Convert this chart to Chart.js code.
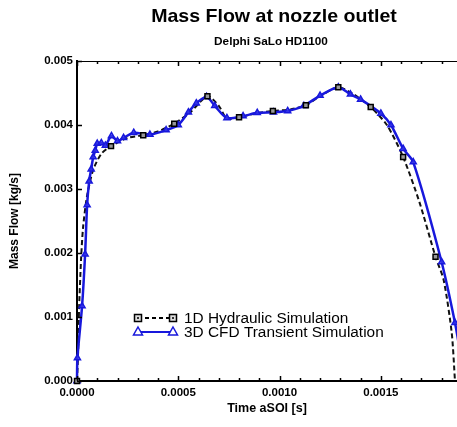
<!DOCTYPE html>
<html>
<head>
<meta charset="utf-8">
<title>Mass Flow at nozzle outlet</title>
<script src="https://cdn.jsdelivr.net/npm/chart.js@4.4.0/dist/chart.umd.min.js"></script>
<style>
  body { margin: 0; background: #fff; }
  canvas { display: block; }
</style>
</head>
<body>
<canvas id="myChart" width="457" height="427"></canvas>
<script>
//*************DATA */
var titleText = 'Mass Flow at nozzle outlet';
var subtitleText = 'Delphi SaLo HD1100';
var xTitle = 'Time aSOI [s]';
var yTitle = 'Mass Flow [kg/s]';
var hydLabel = '1D Hydraulic Simulation';
var cfdLabel = '3D CFD Transient Simulation';

// 1D hydraulic curve (s, kg/s)
var hydTime = [0, 0.000005, 0.00001, 0.00002, 0.00003, 0.00005, 0.00008, 0.00012, 0.000168, 0.00025,
  0.000327, 0.0004, 0.00048, 0.00056, 0.000644, 0.0007, 0.00074, 0.0008, 0.00088, 0.000967,
  0.00105, 0.00113, 0.0012, 0.00129, 0.00137, 0.00145, 0.00153, 0.00161, 0.00169, 0.00177,
  0.00181, 0.00185, 0.001866];
var hydFlow = [0, 0.0004, 0.0011, 0.0019, 0.0024, 0.0029, 0.0033, 0.00355, 0.00367, 0.0038,
  0.00384, 0.0039, 0.00402, 0.0042, 0.00445, 0.0043, 0.0041, 0.00412, 0.00418, 0.00422,
  0.00424, 0.00431, 0.00445, 0.00459, 0.00447, 0.00428, 0.004, 0.0035, 0.0028, 0.00194,
  0.00158, 0.00075, 0];
// indices of hydTime that carry a square marker
var hydMarkers = [0, 8, 10, 12, 14, 17, 19, 21, 23, 25, 27, 29];

// 3D CFD transient curve (s, kg/s)
var cfdTime = [0, 0.000002, 0.000025, 0.00004, 0.00005, 0.00006, 0.00007, 0.00008, 0.00009, 0.0001,
  0.00012, 0.00014, 0.00017, 0.0002, 0.00023, 0.00028, 0.00036, 0.00044, 0.0005, 0.00055,
  0.000589, 0.00064, 0.00068, 0.00074, 0.00082, 0.00089, 0.00097, 0.00104, 0.00112, 0.0012,
  0.00129, 0.00135, 0.0014, 0.0015, 0.00155, 0.00161, 0.00166, 0.0018, 0.001866, 0.0019];
var cfdFlow = [0, 0.00036, 0.00117, 0.00198, 0.00275, 0.00312, 0.00331, 0.0035, 0.0036, 0.00371,
  0.00372, 0.00368, 0.00383, 0.00375, 0.0038, 0.00388, 0.00385, 0.00392, 0.004, 0.0042,
  0.00434, 0.00444, 0.0043, 0.00411, 0.00414, 0.00419, 0.0042, 0.00422, 0.0043, 0.00446,
  0.00459, 0.00448, 0.0044, 0.00418, 0.004, 0.00363, 0.00342, 0.00186, 0.00091, 0.0003];

var xMax = 0.001876;
var xTickStep = 0.0001;
var yTicks = [0, 0.001, 0.002, 0.003, 0.004, 0.005];

var font = '"Liberation Sans", Arial, Helvetica, sans-serif';
var blue = '#1818dc';

function toPoints(xs, ys) {
  var pts = [];
  for (var i = 0; i < xs.length; i++) pts.push({ x: xs[i], y: ys[i] });
  return pts;
}

var hydPoints = toPoints(hydTime, hydFlow);
var hydMarkPoints = hydMarkers.map(function (i) { return { x: hydTime[i], y: hydFlow[i] }; });
var cfdPoints = toPoints(cfdTime, cfdFlow);

// stretched text, the original looks a bit wide
function wideText(ctx, text, x, y, sx) {
  ctx.save();
  ctx.translate(x, y);
  ctx.scale(sx, 1);
  ctx.fillText(text, 0, 0);
  ctx.restore();
}

//*************FRAME, TICKS, TITLES, LEGEND */
var framePlugin = {
  id: 'frame',
  afterDraw: function (chart) {
    var ctx = chart.ctx;
    var a = chart.chartArea;
    var xs = chart.scales.x, ys = chart.scales.y;
    ctx.save();

    // top frame line
    ctx.strokeStyle = '#000';
    ctx.lineWidth = 1;
    ctx.beginPath();
    ctx.moveTo(a.left, a.top + 0.5);
    ctx.lineTo(a.right, a.top + 0.5);
    ctx.stroke();

    // inward ticks on x (top and bottom)
    ctx.lineWidth = 1.5;
    for (var k = 0; k * xTickStep <= xMax; k++) {
      var px = Math.round(xs.getPixelForValue(k * xTickStep)) + 0.5;
      var len = (k % 5 === 0) ? 5 : 3;
      ctx.beginPath();
      ctx.moveTo(px, a.bottom);
      ctx.lineTo(px, a.bottom - len);
      ctx.moveTo(px, a.top);
      ctx.lineTo(px, a.top + len);
      ctx.stroke();
    }
    // inward ticks on y
    yTicks.forEach(function (v) {
      var py = Math.round(ys.getPixelForValue(v)) + 0.5;
      ctx.beginPath();
      ctx.moveTo(a.left, py);
      ctx.lineTo(a.left + 5, py);
      ctx.stroke();
    });

    // titles
    var cx = 274;
    ctx.fillStyle = '#000';
    ctx.textAlign = 'center';
    ctx.textBaseline = 'middle';
    ctx.font = 'bold 19px ' + font;
    wideText(ctx, titleText, cx, 17, 1.03);
    ctx.font = 'bold 11px ' + font;
    wideText(ctx, subtitleText, cx - 3, 42, 1.07);

    // legend
    var lx0 = 138, lx1 = 173;
    var ly1 = 318, ly2 = 332;
    ctx.lineWidth = 2;
    ctx.strokeStyle = '#000';
    ctx.setLineDash([4, 3]);
    ctx.beginPath();
    ctx.moveTo(lx0, ly1);
    ctx.lineTo(lx1, ly1);
    ctx.stroke();
    ctx.setLineDash([]);
    [lx0, lx1].forEach(function (x) {
      ctx.fillStyle = '#ddd';
      ctx.fillRect(x - 3.5, ly1 - 3.5, 7, 7);
      ctx.lineWidth = 1.5;
      ctx.strokeRect(x - 3.5, ly1 - 3.5, 7, 7);
      ctx.fillStyle = '#333';
      ctx.fillRect(x - 1, ly1 - 1, 2, 2);
    });
    ctx.strokeStyle = blue;
    ctx.lineWidth = 2;
    ctx.beginPath();
    ctx.moveTo(lx0, ly2);
    ctx.lineTo(lx1, ly2);
    ctx.stroke();
    [lx0, lx1].forEach(function (x) {
      ctx.fillStyle = '#fff';
      ctx.beginPath();
      ctx.moveTo(x, ly2 - 5);
      ctx.lineTo(x + 4.5, ly2 + 3);
      ctx.lineTo(x - 4.5, ly2 + 3);
      ctx.closePath();
      ctx.fill();
      ctx.lineWidth = 1.5;
      ctx.stroke();
    });
    ctx.fillStyle = '#000';
    ctx.textAlign = 'left';
    ctx.font = '14px ' + font;
    wideText(ctx, hydLabel, 184, ly1 + 1, 1.1);
    wideText(ctx, cfdLabel, 184, ly2 + 1, 1.1);

    ctx.restore();
  }
};

//*************CHART */
var ctx = document.getElementById('myChart').getContext('2d');
var chart = new Chart(ctx, {
  type: 'scatter',
  data: {
    datasets: [
      {
        // squares on top
        label: hydLabel,
        data: hydMarkPoints,
        showLine: false,
        pointStyle: 'rect',
        pointRadius: 3.5,
        pointBackgroundColor: '#999',
        pointBorderColor: '#000',
        pointBorderWidth: 1.5,
        clip: { left: 6, top: 0, right: 0, bottom: 6 }
      },
      {
        label: cfdLabel,
        data: cfdPoints,
        showLine: true,
        borderColor: blue,
        borderWidth: 2.5,
        tension: 0.25,
        pointStyle: 'triangle',
        pointRadius: 3.5,
        pointBackgroundColor: 'rgba(60,60,235,0.7)',
        pointBorderColor: blue,
        pointBorderWidth: 1.5,
        clip: { left: 6, top: 0, right: 0, bottom: 6 }
      },
      {
        label: hydLabel + ' line',
        data: hydPoints,
        showLine: true,
        borderColor: '#111',
        borderWidth: 2,
        borderDash: [5, 3],
        tension: 0.25,
        pointRadius: 0,
        clip: { left: 6, top: 0, right: 0, bottom: 6 }
      }
    ]
  },
  options: {
    responsive: false,
    animation: false,
    devicePixelRatio: 1,
    layout: { autoPadding: false, padding: { top: 61, right: 0, left: 0, bottom: 0 } },
    plugins: {
      legend: { display: false },
      tooltip: { enabled: false }
    },
    scales: {
      x: {
        type: 'linear',
        min: 0,
        max: xMax,
        afterBuildTicks: function (scale) {
          var t = [];
          for (var k = 0; k * xTickStep <= xMax; k++) t.push({ value: k * xTickStep });
          scale.ticks = t;
        },
        afterFit: function (scale) {
          scale.height = 46;
          scale.paddingLeft = 0;
          scale.paddingRight = 0;
        },
        grid: { drawOnChartArea: false, drawTicks: false },
        border: { color: '#000', width: 2 },
        ticks: {
          autoSkip: false,
          maxRotation: 0,
          padding: 5,
          color: '#000',
          font: { family: font, size: 11.5, weight: 'bold' },
          callback: function (v) {
            var k = Math.round(v / xTickStep);
            return (k % 5 === 0) ? (k * xTickStep).toFixed(4) : '';
          }
        },
        title: {
          display: true,
          text: xTitle,
          color: '#000',
          font: { family: font, size: 12.5, weight: 'bold' },
          padding: { top: 0, bottom: 11 }
        }
      },
      y: {
        type: 'linear',
        min: 0,
        max: 0.005,
        afterBuildTicks: function (scale) {
          scale.ticks = yTicks.map(function (v) { return { value: v }; });
        },
        afterFit: function (scale) { scale.width = 77; },
        grid: { drawOnChartArea: false, drawTicks: false },
        border: { color: '#000', width: 2 },
        ticks: {
          padding: 4,
          color: '#000',
          font: { family: font, size: 11.5, weight: 'bold' },
          callback: function (v) { return v.toFixed(3); }
        },
        title: {
          display: true,
          text: yTitle,
          color: '#000',
          font: { family: font, size: 12, weight: 'bold' },
          padding: { top: 7, bottom: 0 }
        }
      }
    }
  },
  plugins: [framePlugin]
});
</script>
</body>
</html>
